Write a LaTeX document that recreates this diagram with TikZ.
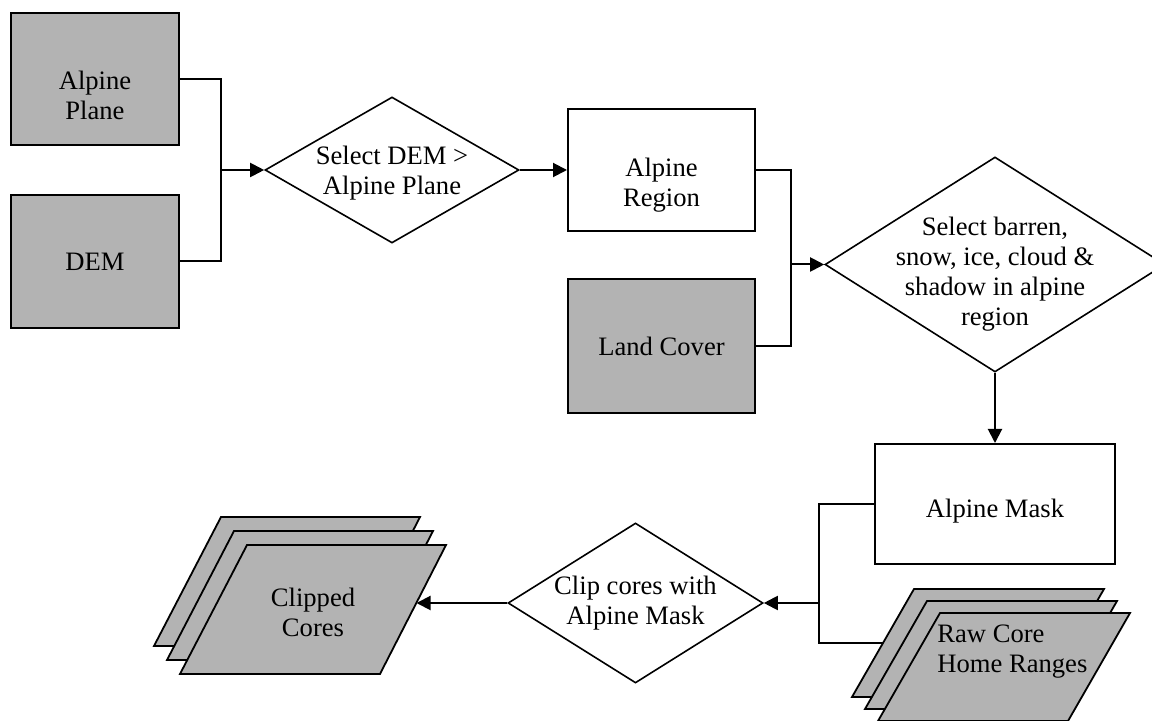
\documentclass[tikz,border=0pt]{standalone}
\usepackage{fontspec}
\setmainfont{Liberation Serif}
\usetikzlibrary{shapes.geometric,arrows.meta}
\definecolor{boxgray}{HTML}{B3B3B3}
\tikzset{
  txt/.style={font=\fontsize{13.3pt}{15pt}\selectfont, align=center, inner sep=0pt},
  box/.style={draw=black, line width=1pt, rectangle, inner sep=0pt},
  databox/.style={box, fill=boxgray},
  decision/.style={draw=black, line width=0.8pt, diamond, inner sep=0pt},
  layer/.style={draw=black, line width=0.9pt, fill=boxgray, line join=miter},
  conn/.style={line width=1pt},
  arrow/.style={conn, -{Triangle[length=7pt,width=7pt]}}
}
\begin{document}
\begin{tikzpicture}[x=0.5pt, y=-0.5pt]
\useasboundingbox (0,0) rectangle (1152,721);
\clip (0,0) rectangle (1152,721);

% input boxes
\node[databox, minimum width=84pt, minimum height=66pt,
  label={[txt,yshift=-8pt]center:{Alpine\\Plane}}] (ap) at (95,79) {};
\node[databox, minimum width=84pt, minimum height=66.5pt,
  label={[txt]center:{DEM}}] (dem) at (95,261.5) {};

% decision 1
\node[decision, minimum width=127pt, minimum height=73pt,
  label={[txt,yshift=-1.5pt]center:{Select DEM >\\Alpine Plane}}] (d1) at (392,170) {};

% alpine region and land cover
\node[box, minimum width=93.5pt, minimum height=61pt,
  label={[txt,yshift=-7.75pt]center:{Alpine\\Region}}] (ar) at (661.5,170) {};
\node[databox, minimum width=93.5pt, minimum height=67pt,
  label={[txt]center:{Land Cover}}] (lc) at (661.5,346) {};

% decision 2
\node[decision, minimum width=170pt, minimum height=107.5pt,
  label={[txt,yshift=-4.75pt]center:{Select barren,\\snow, ice, cloud \&\\shadow in alpine\\region}}] (d2) at (995,264.5) {};

% alpine mask
\node[box, minimum width=120pt, minimum height=60pt,
  label={[txt,yshift=-3.5pt]center:{Alpine Mask}}] (am) at (995,504) {};

% decision 3
\node[decision, minimum width=127.5pt, minimum height=80pt,
  label={[txt]center:{Clip cores with\\Alpine Mask}}] (d3) at (635.5,603) {};

% raw core home ranges (stack)
\draw[layer] (914,589) -- (1104,589) -- (1042,697) -- (852,697) -- cycle;
\draw[layer] (927,601) -- (1117,601) -- (1055,709) -- (865,709) -- cycle;
\draw[layer] (940,613) -- (1130,613) -- (1068,721) -- (878,721) -- cycle;
\node[txt, align=left, anchor=west] (rc) at (937,652) {Raw Core\\Home Ranges};
\coordinate (rcw) at (883,643);

% clipped cores (stack)
\draw[layer] (221,517) -- (420,517) -- (354,646) -- (154,646) -- cycle;
\draw[layer] (234,531) -- (433,531) -- (367,660) -- (167,660) -- cycle;
\draw[layer] (247,545) -- (446,545) -- (380,674) -- (180,674) -- cycle;
\node[txt] (cc) at (313,612) {Clipped\\Cores};
\coordinate (ccw) at (416.5,603);

% junctions
\coordinate (j1) at (221,170);
\coordinate (j2) at (791,264.5);
\coordinate (j3) at (819,603);

% connectors
\draw[conn] (ap.east) -| (j1) |- (dem.east);
\draw[arrow] (j1) -- (d1.west);
\draw[arrow] (d1.east) -- (ar.west);
\draw[conn] (ar.east) -| (j2) |- (lc.east);
\draw[arrow] (j2) -- (d2.west);
\draw[arrow] (d2.south) -- (am.north);
\draw[conn] (am.west) -| (j3) |- (rcw);
\draw[arrow] (j3) -- (d3.east);
\draw[arrow] (d3.west) -- (ccw);
\end{tikzpicture}
\end{document}
